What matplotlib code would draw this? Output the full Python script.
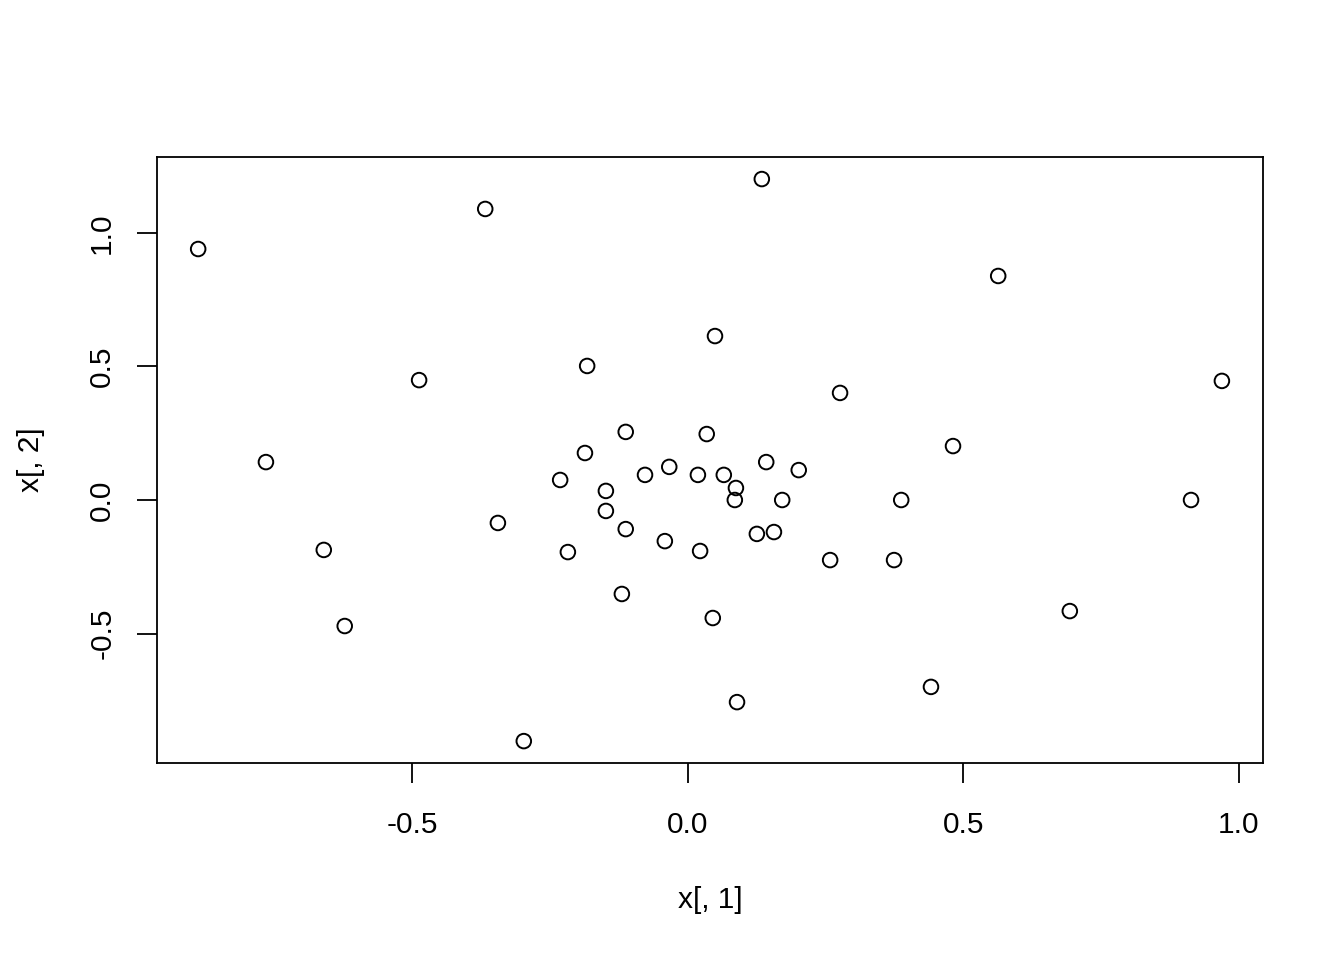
import matplotlib
matplotlib.use('Agg')
import matplotlib.pyplot as plt

# values
x1 = [-0.889, -0.368, 0.134, 0.563, 0.049, -0.183, -0.488, 0.276, 0.969, -0.766,
      -0.113, 0.034, 0.481, -0.187, -0.034, -0.078, 0.018, 0.065, 0.142, 0.201,
      -0.232, -0.149, 0.087, 0.085, 0.171, 0.387, 0.913, -0.149, -0.345, -0.113,
      0.125, 0.156, -0.042, -0.218, 0.022, -0.661, 0.258, 0.374, -0.120, 0.045,
      0.693, -0.623, 0.441, 0.089, -0.298]
x2 = [0.940, 1.090, 1.202, 0.839, 0.614, 0.502, 0.449, 0.401, 0.446, 0.142,
      0.255, 0.247, 0.202, 0.176, 0.124, 0.094, 0.094, 0.094, 0.142, 0.112,
      0.075, 0.034, 0.045, 0.0, 0.0, 0.0, 0.0, -0.041, -0.086, -0.109,
      -0.127, -0.120, -0.154, -0.195, -0.191, -0.187, -0.225, -0.225, -0.352, -0.442,
      -0.416, -0.472, -0.700, -0.757, -0.903]
xticks = [-0.5, 0.0, 0.5, 1.0]
yticks = [-0.5, 0.0, 0.5, 1.0]

plt.rcParams['font.family'] = ['Liberation Sans', 'DejaVu Sans']

fig = plt.figure(figsize=(13.44, 9.6), dpi=100)
ax = fig.add_axes([157/1344, 1-763/960, (1263-157)/1344, (763-157)/960])
ax.scatter(x1, x2, s=110, facecolors='none', edgecolors='black', linewidths=1.4)

ax.set_xlim(-0.9637, 1.0436)
ax.set_ylim(-0.985, 1.2846)
ax.set_xticks(xticks)
ax.set_xticklabels(['%.1f' % v for v in xticks])
ax.set_yticks(yticks)
ax.set_yticklabels(['%.1f' % v for v in yticks], rotation=90, va='center')
ax.tick_params(length=14.4, width=1.3, labelsize=21.5)
ax.tick_params(axis='x', pad=20)
ax.tick_params(axis='y', pad=15)
for s in ax.spines.values():
    s.set_linewidth(1.3)
ax.set_xlabel('x[, 1]', fontsize=21.5, labelpad=34)
ax.set_ylabel('x[, 2]', fontsize=21.5, labelpad=31)

fig.savefig('out.png', dpi=100)
